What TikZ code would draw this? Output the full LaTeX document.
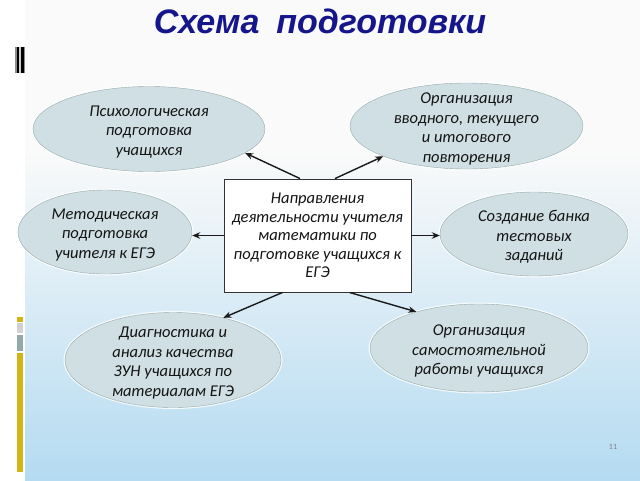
\documentclass[tikz,border=0pt]{standalone}
\usepackage{fontspec}
\setmainfont{Carlito}
\newfontfamily\titlefont{Liberation Sans}
\usepackage{xcolor}
\usepackage{tikz}
\usetikzlibrary{positioning}
\usetikzlibrary{shapes, arrows, arrows.meta, shapes.geometric}

\definecolor{titleblue}{RGB}{22,22,140}
\definecolor{ovalfill}{RGB}{208,223,227}
\definecolor{ovaldraw}{RGB}{148,170,170}
\definecolor{bgblue}{RGB}{180,219,241}
\definecolor{baryellow}{RGB}{210,180,22}
\definecolor{textgray}{RGB}{20,20,20}

\begin{document}
\begin{tikzpicture}[x=1pt, y=-1pt,
    oval/.style = {ellipse, draw=ovaldraw, fill=ovalfill, inner sep=0pt,
                   preaction={draw=white, line width=3pt, opacity=0.8}},% ellipses
    ovaltext/.style = {align=center, text=textgray, yshift=-3pt,
                   font=\itshape\fontsize{16.5}{19.5}\selectfont},% text in ellipses
    box/.style = {draw=black!80, fill=white, line width=0.9pt, inner sep=0pt,
                  minimum width=187pt, minimum height=113pt, align=center,
                  text=textgray, font=\itshape\fontsize{16.5}{18.5}\selectfont},% central box
    arrow/.style = {-{Stealth[length=8pt, width=6.5pt]}, line width=1.4pt, black!90}
    ]
    \useasboundingbox (0,0) rectangle (640,480);
    % background
    \fill[white] (0,0) rectangle (640,480);
    \fill[black!2] (25,0) rectangle (640,150);
    \shade[top color=black!2, bottom color=bgblue] (25,150) rectangle (640,480);
    % left marks
    \fill[black!45] (15,47) rectangle (25,73);
    \fill[black] (16.5,47) rectangle (18.5,73);
    \fill[black!20] (18.5,47) rectangle (20.5,73);
    \fill[black] (20.5,47) rectangle (23.5,73);
    \fill[baryellow] (17,317) rectangle (23,322);
    \fill[black!18] (17,323) rectangle (23,333);
    \fill[ovaldraw] (17,335) rectangle (23,351);
    \fill[baryellow] (17,353) rectangle (23,472);
    % title
    \node (title) at (320,21) {\titlefont\fontsize{34}{34}\selectfont\bfseries\itshape
        \textcolor{titleblue}{Схема\hspace{0.5em}подготовки}};
    % central box
    \node (ctr) [box] at (317.5,235.5)
        {Направления\\деятельности учителя\\математики по\\подготовке учащихся к\\ЕГЭ};
    % ellipses
    \node (psy) [oval, minimum width=232pt, minimum height=85pt,
        label={[ovaltext]center:Психологическая\\подготовка\\учащихся}] at (149,129) {};
    \node (org) [oval, minimum width=233pt, minimum height=86pt,
        label={[ovaltext]center:Организация\\вводного, текущего\\и итогового\\повторения}] at (466.5,126) {};
    \node (met) [oval, minimum width=174pt, minimum height=84pt,
        label={[ovaltext]center:Методическая\\подготовка\\учителя к ЕГЭ}] at (105,232) {};
    \node (bank) [oval, minimum width=188pt, minimum height=84pt,
        label={[ovaltext]center:Создание банка\\тестовых\\заданий}] at (534,234) {};
    \node (diag) [oval, minimum width=216pt, minimum height=95pt,
        label={[ovaltext]center:Диагностика и\\анализ качества\\ЗУН учащихся по\\материалам ЕГЭ}] at (173,360) {};
    \node (sam) [oval, minimum width=218pt, minimum height=88pt,
        label={[ovaltext]center:Организация\\самостоятельной\\работы учащихся}] at (479,348) {};
    % page number
    \node (pnum) [text=black!50, font=\fontsize{8}{8}\selectfont] at (613,447) {11};
    % arrows
    \draw[arrow] ([xshift=-17.5pt]ctr.north) -- (psy.-14);
    \draw[arrow] ([xshift=17.5pt]ctr.north) -- (org.200);
    \draw[arrow] (ctr.west) -- (ctr.west -| met.east);
    \draw[arrow] (ctr.east) -- (ctr.east -| bank.west);
    \draw[arrow] ([xshift=-35pt]ctr.south) -- (diag.40);
    \draw[arrow] ([xshift=32pt]ctr.south) -- (sam.150);
\end{tikzpicture}
\end{document}
